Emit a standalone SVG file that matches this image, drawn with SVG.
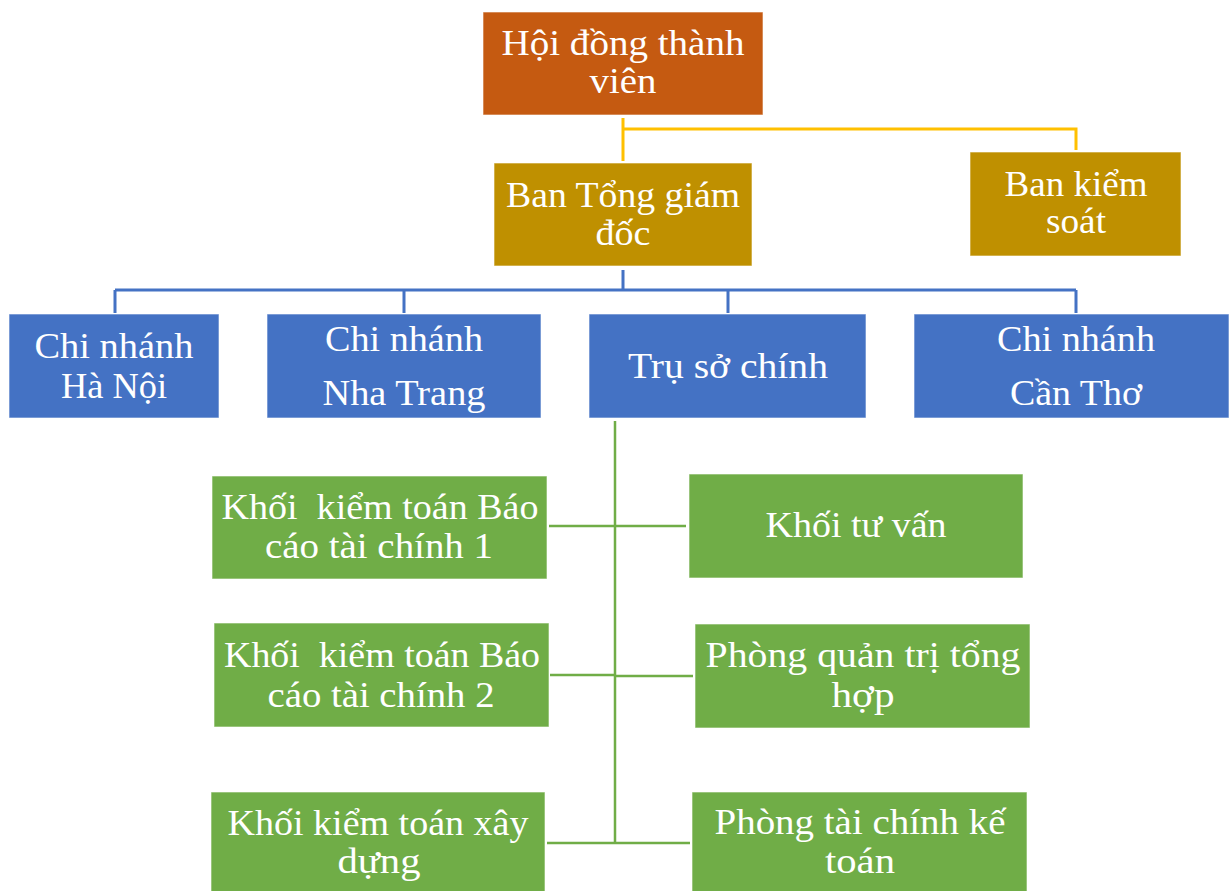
<svg xmlns="http://www.w3.org/2000/svg" width="1229" height="891" viewBox="0 0 1229 891">
<style>
.box{stroke:#ffffff;stroke-opacity:0.6;stroke-width:1}
.orange{fill:#C55A11}
.gold{fill:#BF9000}
.blue{fill:#4472C4}
.green{fill:#70AD47}
text{font-family:"Liberation Serif","DejaVu Serif",serif;font-size:35px;fill:#ffffff;text-anchor:middle}
.pre{white-space:pre}
.cy{stroke:#FFC000;stroke-width:3;fill:none}
.cb{stroke:#4472C4;stroke-width:3;fill:none}
.cg{stroke:#70AD47;stroke-width:2.5;fill:none}
</style>
<rect width="1229" height="891" fill="#ffffff"/>
<g id="connectors">
<path class="cy" d="M623,118 V161 M623,129 H1076 V150"/>
<path class="cb" d="M623,270 V290 M115,290 H1076 M115,290 V313 M404,290 V313 M728,290 V313 M1076,290 V313"/>
<path class="cg" d="M615,421 V843 M549,526 H615 M615,526 H686 M550,675 H615 M615,676 H693 M547,843 H615 M615,843 H690"/>
</g>
<g id="hoi-dong">
<rect class="box orange" x="483" y="12" width="280" height="103"/>
<text x="623" y="55" textLength="243" lengthAdjust="spacingAndGlyphs">Hội đồng thành</text>
<text x="623" y="93" textLength="67" lengthAdjust="spacingAndGlyphs">viên</text>
</g>
<g id="ban-tong-giam-doc">
<rect class="box gold" x="494" y="163" width="258" height="103"/>
<text x="623" y="207" textLength="234" lengthAdjust="spacingAndGlyphs">Ban Tổng giám</text>
<text x="623" y="245" textLength="55" lengthAdjust="spacingAndGlyphs">đốc</text>
</g>
<g id="ban-kiem-soat">
<rect class="box gold" x="970" y="152" width="211" height="104"/>
<text x="1076" y="196" textLength="143" lengthAdjust="spacingAndGlyphs">Ban kiểm</text>
<text x="1076" y="233" textLength="60" lengthAdjust="spacingAndGlyphs">soát</text>
</g>
<g id="chi-nhanh-ha-noi">
<rect class="box blue" x="9" y="314" width="210" height="104"/>
<text x="114" y="358" textLength="159" lengthAdjust="spacingAndGlyphs">Chi nhánh</text>
<text x="114" y="398" textLength="106" lengthAdjust="spacingAndGlyphs">Hà Nội</text>
</g>
<g id="chi-nhanh-nha-trang">
<rect class="box blue" x="267" y="314" width="274" height="104"/>
<text x="404" y="351" textLength="158" lengthAdjust="spacingAndGlyphs">Chi nhánh</text>
<text x="404" y="405" textLength="163" lengthAdjust="spacingAndGlyphs">Nha Trang</text>
</g>
<g id="tru-so-chinh">
<rect class="box blue" x="589" y="314" width="277" height="104"/>
<text x="728" y="378" textLength="200" lengthAdjust="spacingAndGlyphs">Trụ sở chính</text>
</g>
<g id="chi-nhanh-can-tho">
<rect class="box blue" x="914" y="314" width="315" height="104"/>
<text x="1076" y="351" textLength="158" lengthAdjust="spacingAndGlyphs">Chi nhánh</text>
<text x="1076" y="405" textLength="132" lengthAdjust="spacingAndGlyphs">Cần Thơ</text>
</g>
<g id="khoi-kiem-toan-1">
<rect class="box green" x="212" y="476" width="335" height="103"/>
<text class="pre" x="380" y="519" textLength="317" lengthAdjust="spacingAndGlyphs">Khối  kiểm toán Báo</text>
<text x="379" y="558" textLength="228" lengthAdjust="spacingAndGlyphs">cáo tài chính 1</text>
</g>
<g id="khoi-tu-van">
<rect class="box green" x="689" y="474" width="334" height="104"/>
<text x="856" y="537" textLength="181" lengthAdjust="spacingAndGlyphs">Khối tư vấn</text>
</g>
<g id="khoi-kiem-toan-2">
<rect class="box green" x="214" y="623" width="335" height="104"/>
<text class="pre" x="382" y="667" textLength="316" lengthAdjust="spacingAndGlyphs">Khối  kiểm toán Báo</text>
<text x="381" y="707" textLength="227" lengthAdjust="spacingAndGlyphs">cáo tài chính 2</text>
</g>
<g id="phong-quan-tri">
<rect class="box green" x="695" y="624" width="335" height="104"/>
<text x="863" y="667" textLength="315" lengthAdjust="spacingAndGlyphs">Phòng quản trị tổng</text>
<text x="863" y="707" textLength="63" lengthAdjust="spacingAndGlyphs">hợp</text>
</g>
<g id="khoi-kiem-toan-xay-dung">
<rect class="box green" x="211" y="792" width="334" height="100"/>
<text x="378" y="835" textLength="301" lengthAdjust="spacingAndGlyphs">Khối kiểm toán xây</text>
<text x="379" y="873" textLength="83" lengthAdjust="spacingAndGlyphs">dựng</text>
</g>
<g id="phong-tai-chinh">
<rect class="box green" x="692" y="792" width="335" height="100"/>
<text x="860" y="834" textLength="291" lengthAdjust="spacingAndGlyphs">Phòng tài chính kế</text>
<text x="860" y="873" textLength="70" lengthAdjust="spacingAndGlyphs">toán</text>
</g>
</svg>
